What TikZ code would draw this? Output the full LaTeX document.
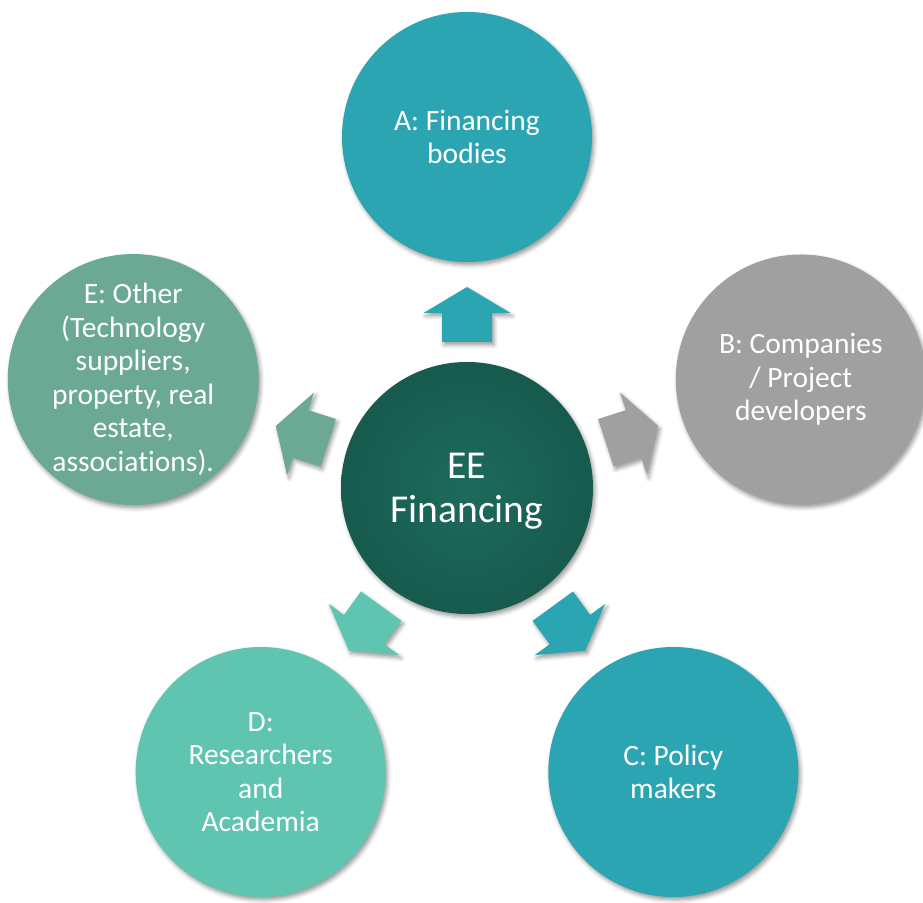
\documentclass[tikz,border=0pt]{standalone}
\usepackage{fontspec}
\setmainfont{Carlito}[Ligatures=NoCommon]
\usetikzlibrary{shadows.blur}
\definecolor{cteal}{HTML}{2CA5B3}
\definecolor{cgray}{HTML}{A0A0A0}
\definecolor{cmint}{HTML}{5FC4B0}
\definecolor{csage}{HTML}{6BA994}
\definecolor{cdarkout}{HTML}{175A4E}
\definecolor{cdarkin}{HTML}{1C6B5D}
\tikzset{
  softshadow/.style={blur shadow={shadow xshift=2pt, shadow yshift=-3pt, shadow blur radius=4pt, shadow opacity=40}},
  outer/.style={circle, minimum size=250pt, inner sep=0pt, text=white, align=center,
    font=\fontsize{29.5}{33.5}\selectfont, softshadow},
  hub/.style={circle, minimum size=252pt, inner sep=0pt, text=white,
    font=\fontsize{39.5}{44}\selectfont, shading=radial, inner color=cdarkin, outer color=cdarkout, softshadow},
  arrowshape/.style={softshadow}
}
\newcommand{\housearrow}[2]{%
  \begin{scope}[shift={(ctr.center)}, rotate=#1]
    \fill[#2, arrowshape] (146,-25) -- (175,-25) -- (175,-43.5) -- (201,0) -- (175,43.5) -- (175,25) -- (146,25) -- cycle;
  \end{scope}}
\begin{document}
\begin{tikzpicture}[x=1pt,y=1pt]
\useasboundingbox (0,0) rectangle (923,902);
\node[hub] (ctr) at (467,414) {\raisebox{-4pt}[\height][\depth]{\begin{tabular}{@{}c@{}}EE\\Financing\end{tabular}}};
\housearrow{90}{cteal}
\housearrow{18}{cgray}
\housearrow{-54}{cteal}
\housearrow{-126}{cmint}
\housearrow{162}{csage}
\node[outer, fill=cteal] (A) at (467,765) {A: Financing\\bodies};
\node[outer, fill=cgray] (B) at (800.8,522.5) {B: Companies\\/ Project\\developers};
\node[outer, fill=cteal] (C) at (673.3,130) {C: Policy\\makers};
\node[outer, fill=cmint] (D) at (260.7,130) {D:\\Researchers\\and\\Academia};
\node[outer, fill=csage] (E) at (133.2,522.5) {E: Other\\(Technology\\suppliers,\\property, real\\estate,\\associations).};
\end{tikzpicture}
\end{document}
